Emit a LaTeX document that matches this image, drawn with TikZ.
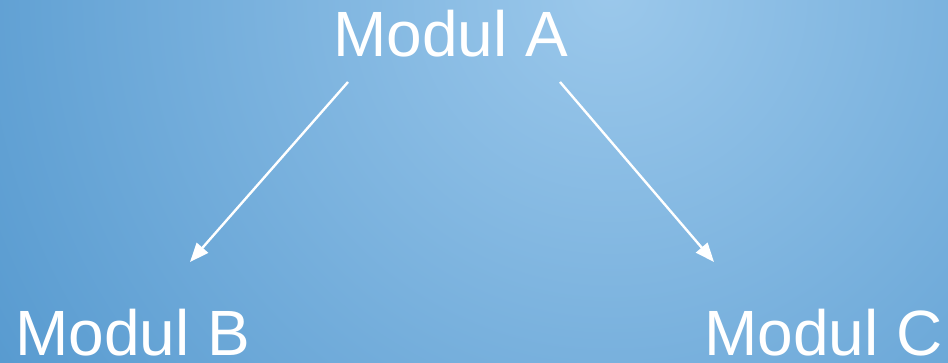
\documentclass[tikz,border=0pt]{standalone}
\usepackage{fontspec}
\setmainfont{Liberation Sans}
\usetikzlibrary{arrows.meta}
\tikzset{
  lbl/.style={text=white, font=\fontsize{64}{72}\selectfont, inner sep=0pt, anchor=base west},
  conn/.style={draw=white, line width=2.4pt, -{Triangle[length=19pt,width=15pt]}}
}
\begin{document}
\begin{tikzpicture}[x=1pt,y=1pt]
\useasboundingbox (0,0) rectangle (948,363);
\begin{scope}
\clip (0,0) rectangle (948,363);
\shade[inner color={rgb,255:red,155;green,200;blue,235}, outer color={rgb,255:red,78;green,148;blue,204}] (610,370) circle (820);
\end{scope}
\node[lbl] (A) at (333,306) {Modul A};
\node[lbl] (B) at (15,7) {Modul B};
\node[lbl] (C) at (704,7) {Modul C};
\coordinate (a1) at (348,281);
\coordinate (b1) at (190,101);
\coordinate (a2) at (560,281);
\coordinate (c1) at (714,101);
\draw[conn] (a1) -- (b1);
\draw[conn] (a2) -- (c1);
\end{tikzpicture}
\end{document}
